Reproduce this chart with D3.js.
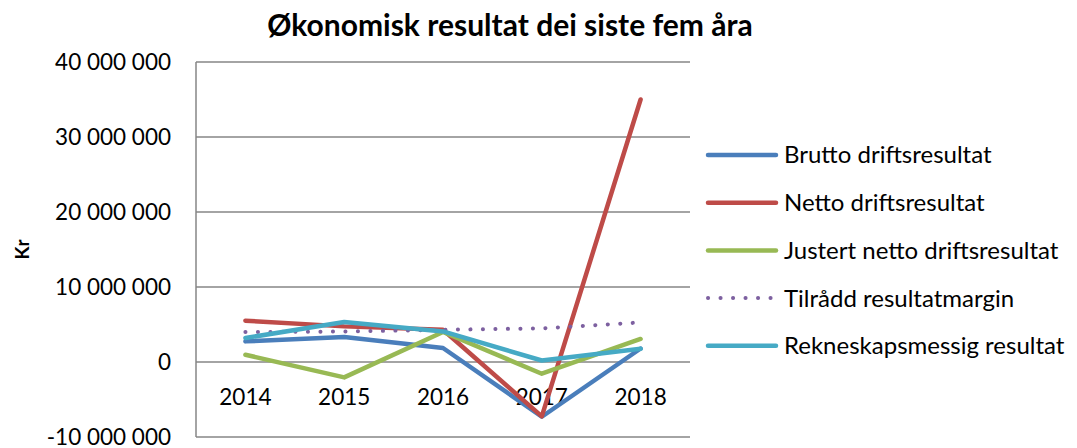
<!DOCTYPE html>
<html>
<head>
<meta charset="utf-8">
<script src="https://cdn.jsdelivr.net/npm/d3@7"></script>
<style>
  body { margin: 0; background: #fff; }
  text { font-family: Lato, "Open Sans", sans-serif; fill: #000; }
</style>
</head>
<body>
<div id="chart"></div>
<script>
const width = 1077, height = 448;

// data
const years = ["2014", "2015", "2016", "2017", "2018"];
const brutto = [2750000, 3330000, 1870000, -7300000, 1800000];
const netto = [5500000, 4750000, 4300000, -7250000, 35000000];
const justert = [970000, -2050000, 4000000, -1560000, 3070000];
const tilraadd = [4000000, 4060000, 4300000, 4480000, 5280000];
const rekneskap = [3200000, 5330000, 4080000, 200000, 1770000];
const seriesNames = ["Brutto driftsresultat", "Netto driftsresultat", "Justert netto driftsresultat", "Tilrådd resultatmargin", "Rekneskapsmessig resultat"];
const yTicks = [-10000000, 0, 10000000, 20000000, 30000000, 40000000];

const series = [
  {name: seriesNames[0], values: brutto, color: "#4a7ebb", dotted: false},
  {name: seriesNames[1], values: netto, color: "#be4b48", dotted: false},
  {name: seriesNames[2], values: justert, color: "#98b954", dotted: false},
  {name: seriesNames[3], values: tilraadd, color: "#7d60a0", dotted: true},
  {name: seriesNames[4], values: rekneskap, color: "#46aac5", dotted: false}
];

const svg = d3.select("#chart")
  .append("svg")
  .attr("width", width)
  .attr("height", height);

const plotLeft = 196, plotRight = 690, plotTop = 62, plotBottom = 437;

const x = d3.scaleBand().domain(years).range([plotLeft, plotRight]);
const y = d3.scaleLinear().domain([-10000000, 40000000]).range([plotBottom, plotTop]);

const fmt = v => d3.format(",")(v).replace(/,/g, "\u00a0").replace("−", "-");

// gridlines
svg.append("g")
  .selectAll("line")
  .data(yTicks)
  .enter().append("line")
  .attr("x1", plotLeft).attr("x2", plotRight)
  .attr("y1", d => y(d)).attr("y2", d => y(d))
  .attr("stroke", "#868686")
  .attr("stroke-width", 1.5);

// left axis line
svg.append("line")
  .attr("x1", plotLeft).attr("x2", plotLeft)
  .attr("y1", plotTop).attr("y2", plotBottom)
  .attr("stroke", "#868686")
  .attr("stroke-width", 1.5);

// y tick labels
svg.append("g")
  .selectAll("text")
  .data(yTicks)
  .enter().append("text")
  .attr("x", 171)
  .attr("y", d => y(d))
  .attr("dy", "0.35em")
  .attr("text-anchor", "end")
  .attr("font-size", 22.5)
  .text(d => fmt(d));

// category labels under the zero line
svg.append("g")
  .selectAll("text")
  .data(years)
  .enter().append("text")
  .attr("x", d => x(d) + x.bandwidth() / 2)
  .attr("y", y(0) + 35)
  .attr("dy", "0.35em")
  .attr("text-anchor", "middle")
  .attr("font-size", 22.5)
  .text(d => d);

// y axis title
svg.append("text")
  .attr("transform", "translate(29," + (y(15000000)) + ") rotate(-90)")
  .attr("text-anchor", "middle")
  .attr("font-size", 19)
  .attr("font-weight", "bold")
  .text("Kr");

// title
svg.append("text")
  .attr("x", 510)
  .attr("y", 36)
  .attr("text-anchor", "middle")
  .attr("font-size", 30)
  .attr("font-weight", "bold")
  .text("Økonomisk resultat dei siste fem åra");

const line = d3.line()
  .x((d, i) => x(years[i]) + x.bandwidth() / 2)
  .y(d => y(d));

svg.append("g")
  .selectAll("path")
  .data(series)
  .enter().append("path")
  .attr("d", d => line(d.values))
  .attr("fill", "none")
  .attr("stroke", d => d.color)
  .attr("stroke-width", d => d.dotted ? 4 : 4.5)
  .attr("stroke-linecap", "round")
  .attr("stroke-linejoin", "round")
  .attr("stroke-dasharray", d => d.dotted ? "0.1 12.4" : null);

// legend
const legend = svg.append("g")
  .selectAll("g")
  .data(series)
  .enter().append("g")
  .attr("transform", (d, i) => "translate(706," + (155 + i * 47.7) + ")");

legend.append("line")
  .attr("x1", 2).attr("x2", 70)
  .attr("stroke", d => d.color)
  .attr("stroke-width", d => d.dotted ? 4 : 4.5)
  .attr("stroke-linecap", "round")
  .attr("stroke-dasharray", d => d.dotted ? "0.1 12.4" : null);

legend.append("text")
  .attr("x", 78)
  .attr("dy", "0.35em")
  .attr("font-size", 24)
  .text(d => d.name);
</script>
</body>
</html>
